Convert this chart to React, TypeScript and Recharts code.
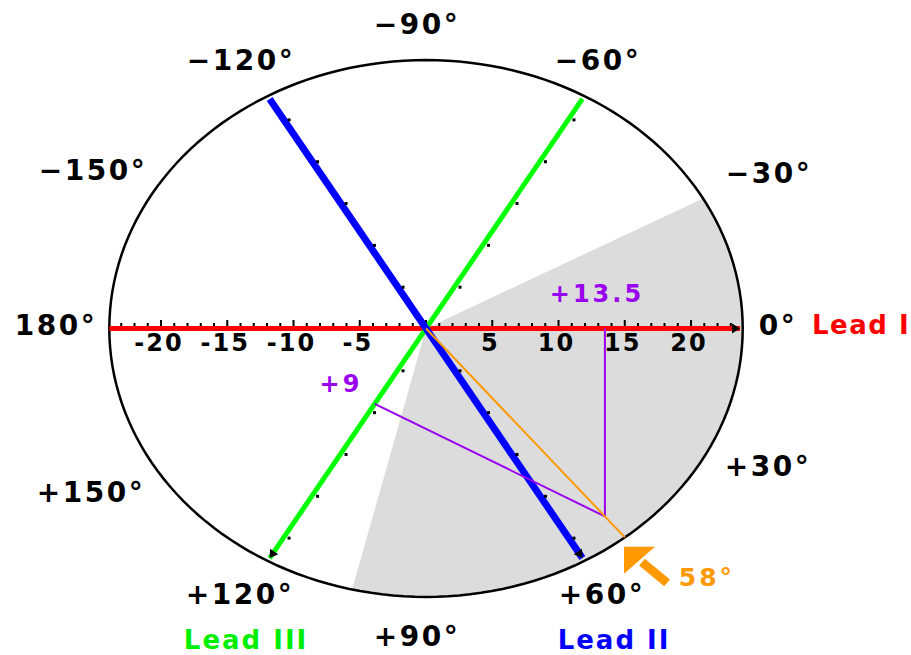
import React from 'react';
import { ScatterChart, Scatter, XAxis, YAxis } from 'recharts';

// ---------------- data ----------------
const CIRCLE_RADIUS = 23.9; // lead I units
const LEAD_LENGTH = 23.6;
const leadNames = ['Lead I', 'Lead II', 'Lead III'];
const leadAngles = [0, 60, 120];
const leadIScaleTicks = [-23, -22, -21, -20, -19, -18, -17, -16, -15, -14, -13, -12, -11, -10, -9, -8, -7, -6, -5, -4, -3, -2, -1, 0, 1, 2, 3, 4, 5, 6, 7, 8, 9, 10, 11, 12, 13, 14, 15, 16, 17, 18, 19, 20, 21, 22, 23];
const leadIScaleLabels = [-20, -15, -10, -5, 5, 10, 15, 20];
const otherLeadTickValues = [-25, -20, -15, -10, -5, 5, 10, 15, 20, 25];
const otherLeadScale = 0.86;
const degreeLabels = ['-90°', '-60°', '-30°', '0°', '+30°', '+60°', '+90°', '+120°', '+150°', '180°', '-150°', '-120°'];
const leadIValue = 13.5;
const leadIIIValue = 9;
const axisLabel = '58°';
const normalRange = [-29, 103.5];

// ---------------- layout ----------------
const W = 911;
const H = 655;
const X_DOMAIN: [number, number] = [-32.15, 36.6];
const Y_DOMAIN: [number, number] = [-29.07, 29.25];
const degreeLabelPos: [number, number][] = [
  [-0.68, 27.11], [12.98, 23.82], [25.89, 13.76], [26.57, 0.31], [25.81, -12.33], [13.28, -23.64],
  [-0.68, -27.38], [-14.04, -23.64], [-25.28, -14.56], [-27.92, 0.31], [-25.13, 14.03], [-13.96, 23.82],
];
const leadLabelPos: [number, number][] = [[29.13, 0.31], [14.19, -27.7], [-13.58, -27.7]];
const leadColors = ['#ff0000', '#0000ff', '#00ff00'];
const leadWidths = [5, 7, 5];
const FONT = '"DejaVu Sans", Verdana, sans-serif';
const PURPLE = '#9900ee';
const ORANGE = '#ff9900';

const polar = (deg: number, r: number) => {
  const a = (deg * Math.PI) / 180;
  return { x: r * Math.cos(a), y: -r * Math.sin(a) };
};

const noShape = () => <g />;

const seg = (key: string, pts: { x: number; y: number }[], stroke: string, width: number) => (
  <Scatter
    key={key}
    data={pts}
    line={{ stroke, strokeWidth: width, strokeLinecap: 'butt' }}
    lineType="joint"
    shape={noShape}
    isAnimationActive={false}
  />
);

const textSeries = (
  key: string,
  items: { x: number; y: number; label: string }[],
  fill: string,
  size: number,
  spacing: number,
  anchor: string = 'middle'
) => (
  <Scatter
    key={key}
    data={items}
    isAnimationActive={false}
    shape={(p: any) => (
      <text
        x={p.cx}
        y={p.cy}
        fill={fill}
        fontFamily={FONT}
        fontWeight="bold"
        fontSize={size}
        letterSpacing={spacing}
        textAnchor={anchor}
        dominantBaseline="central"
      >
        {p.payload.label}
      </text>
    )}
  />
);

export default function App() {
  // ellipse outline (circle in axis units)
  const circlePts = [];
  for (let a = 0; a <= 360; a += 2) circlePts.push(polar(a, CIRCLE_RADIUS));

  // normal-range sector
  const sectorPts = [{ x: 0, y: 0 }];
  for (let a = normalRange[0]; a <= normalRange[1]; a += 0.5) sectorPts.push(polar(a, CIRCLE_RADIUS));
  sectorPts.push(polar(normalRange[1], CIRCLE_RADIUS));

  // projections
  const leadIIIDir = polar(leadAngles[2], 1);
  const foot = { x: leadIIIDir.x * leadIIIValue * otherLeadScale, y: leadIIIDir.y * leadIIIValue * otherLeadScale };
  const perp = { x: -leadIIIDir.y, y: leadIIIDir.x };
  const t = (leadIValue - foot.x) / perp.x;
  const meet = { x: leadIValue, y: foot.y + perp.y * t };
  const meetLen = Math.hypot(meet.x, meet.y);
  const axisEnd = { x: (meet.x / meetLen) * CIRCLE_RADIUS, y: (meet.y / meetLen) * CIRCLE_RADIUS };

  const leadTickPts: { x: number; y: number }[] = [];
  [1, 2].forEach((i) => {
    otherLeadTickValues.forEach((v) => {
      const p = polar(leadAngles[i], v * otherLeadScale);
      if (Math.hypot(p.x, p.y) < LEAD_LENGTH) leadTickPts.push(p);
    });
  });

  const leadEnds = leadAngles.map((a, i) => ({ ...polar(a, i === 0 ? CIRCLE_RADIUS - 0.2 : LEAD_LENGTH), ang: a }));

  return (
    <div style={{ position: 'fixed', left: 0, top: 0, width: W, height: H, background: '#fff' }}>
      <ScatterChart width={W} height={H} margin={{ top: 0, right: 0, bottom: 0, left: 0 }}>
        <XAxis type="number" dataKey="x" domain={X_DOMAIN} allowDataOverflow hide />
        <YAxis type="number" dataKey="y" domain={Y_DOMAIN} allowDataOverflow hide />

        <Scatter
          data={sectorPts}
          line={{ fill: '#dcdcdc', stroke: 'none' }}
          lineType="joint"
          shape={noShape}
          isAnimationActive={false}
        />
        {seg('circle', circlePts, '#000', 2.5)}

        <Scatter
          data={leadIScaleTicks.map((v) => ({ x: v, y: 0 }))}
          isAnimationActive={false}
          shape={(p: any) => {
            const major = p.payload.x % 5 === 0;
            const h = major ? 6 : 3;
            return <rect x={p.cx - 1} y={p.cy - 2.5 - h} width={2} height={h} fill="#000" />;
          }}
        />

        {seg('lead1', [polar(180, CIRCLE_RADIUS), polar(0, CIRCLE_RADIUS - 0.2)], leadColors[0], leadWidths[0])}
        {seg('lead3', [polar(leadAngles[2] + 180, LEAD_LENGTH), polar(leadAngles[2], LEAD_LENGTH)], leadColors[2], leadWidths[2])}
        {seg('lead2', [polar(leadAngles[1] + 180, LEAD_LENGTH), polar(leadAngles[1], LEAD_LENGTH)], leadColors[1], leadWidths[1])}

        <Scatter
          data={leadTickPts}
          isAnimationActive={false}
          shape={(p: any) => <rect x={p.cx + 4} y={p.cy - 1} width={3} height={3} fill="#000" />}
        />

        <Scatter
          data={leadEnds}
          isAnimationActive={false}
          shape={(p: any) => {
            const sx = 13.25, sy = 11.23;
            const a = p.payload.ang;
            const rad = Math.atan2(Math.sin((a * Math.PI) / 180) * sy, Math.cos((a * Math.PI) / 180) * sx);
            const deg = (rad * 180) / Math.PI;
            return (
              <polygon
                points="0,0 -8,-5 -8,5"
                fill="#000"
                transform={`translate(${p.cx},${p.cy}) rotate(${deg})`}
              />
            );
          }}
        />

        {seg('perpI', [{ x: leadIValue, y: 0 }, meet], PURPLE, 2)}
        {seg('perpIII', [foot, meet], PURPLE, 2)}
        {seg('axis', [{ x: 0, y: 0 }, axisEnd], ORANGE, 2)}

        {seg('arrowShaft', [{ x: 18.19, y: -22.65 }, { x: 16.3, y: -20.8 }], ORANGE, 9)}
        <Scatter
          data={[{ x: 14.94, y: -19.44 }]}
          isAnimationActive={false}
          shape={(p: any) => (
            <polygon points={`${p.cx},${p.cy} ${p.cx + 31},${p.cy} ${p.cx},${p.cy + 27}`} fill={ORANGE} />
          )}
        />

        {textSeries('tickLabels', leadIScaleLabels.map((v) => ({ x: v - 0.15, y: -1.3, label: String(v) })), '#000', 24, 2)}
        {textSeries('degLabels', degreeLabels.map((l, i) => ({ x: degreeLabelPos[i][0], y: degreeLabelPos[i][1], label: l.replace('-', '\u2212') })), '#000', 28, 2.5)}
        {textSeries('leadI', [{ x: leadLabelPos[0][0], y: leadLabelPos[0][1], label: leadNames[0] }], leadColors[0], 26, 1.5, 'start')}
        {textSeries('leadII', [{ x: leadLabelPos[1][0], y: leadLabelPos[1][1], label: leadNames[1] }], leadColors[1], 26, 2)}
        {textSeries('leadIII', [{ x: leadLabelPos[2][0], y: leadLabelPos[2][1], label: leadNames[2] }], '#00ee00', 26, 2)}
        {textSeries('valI', [{ x: 12.9, y: 3.07, label: `+${leadIValue}` }], PURPLE, 24, 3)}
        {textSeries('valIII', [{ x: -6.42, y: -4.9, label: `+${leadIIIValue}` }], PURPLE, 24, 3)}
        {textSeries('axisLbl', [{ x: 21.2, y: -22.2, label: axisLabel }], ORANGE, 25, 3)}
      </ScatterChart>
    </div>
  );
}
